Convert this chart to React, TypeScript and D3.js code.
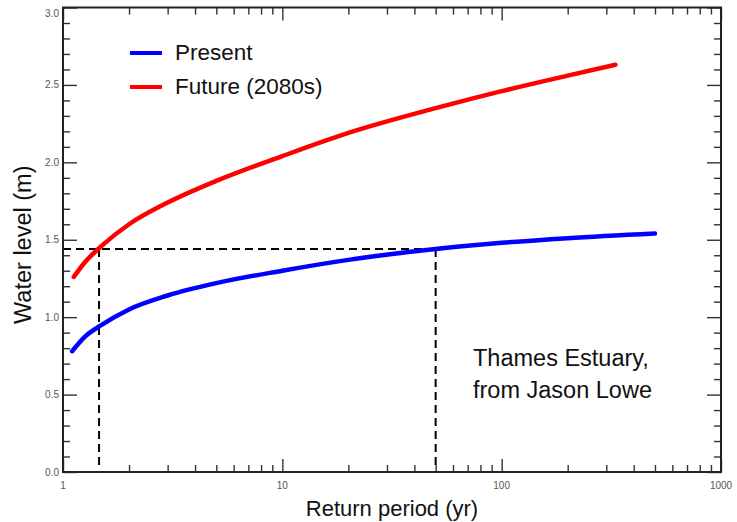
import { useRef, useEffect } from "react";
import * as d3 from "d3";

// values (return period in years, water level in m)
const presentPeriod = [1.1, 1.25, 1.5, 2, 3, 5, 10, 20, 50, 100, 200, 500];
const presentLevel = [0.78, 0.87, 0.95, 1.05, 1.14, 1.22, 1.3, 1.37, 1.44, 1.48, 1.51, 1.54];
const futurePeriod = [1.12, 1.25, 1.5, 2, 3, 5, 10, 20, 50, 100, 200, 330];
const futureLevel = [1.26, 1.35, 1.46, 1.6, 1.74, 1.88, 2.04, 2.19, 2.35, 2.46, 2.56, 2.63];

const seriesNames = ["Present", "Future (2080s)"];
const xTickLabels = [1, 10, 100, 1000];
const yTickLabels = [0, 0.5, 1, 1.5, 2, 2.5, 3];

// threshold guides: 1.44 m, reached at ~1.45 yr (future) and 50 yr (present)
const guideLevel = 1.44;
const guidePeriods = [1.46, 50];

export default function App() {
  const svgRef = useRef<SVGSVGElement>(null);

  useEffect(() => {
    if (!svgRef.current) return;
    const width = 737;
    const height = 522;
    const margin = { top: 7.5, right: 16, bottom: 50, left: 63 };
    const font = "'Liberation Sans', Arial, Helvetica, sans-serif";

    const svg = d3.select(svgRef.current);
    svg.selectAll("*").remove();
    svg.attr("width", width).attr("height", height).attr("viewBox", `0 0 ${width} ${height}`);

    const x = d3
      .scaleLog()
      .domain([1, 1000])
      .range([margin.left, width - margin.right]);
    const y = d3
      .scaleLinear()
      .domain([0, 3])
      .range([height - margin.bottom, margin.top]);

    const x0 = margin.left;
    const x1 = width - margin.right;
    const y0 = height - margin.bottom;
    const y1 = margin.top;

    svg.append("rect").attr("width", width).attr("height", height).attr("fill", "#fff");

    const xMinor = x.ticks().filter((d) => !xTickLabels.includes(d));
    const yMinor = y.ticks(30).filter((d) => !yTickLabels.some((v) => Math.abs(v - d) < 1e-6));

    const tickStyle = (g: any) => {
      g.select(".domain").remove();
      g.selectAll(".tick line").attr("stroke", "#333").attr("stroke-width", 1.4);
      g.selectAll(".tick text").remove();
    };

    // inward ticks on all four sides
    const axes: [any, string][] = [
      [d3.axisBottom(x), `translate(0,${y0})`],
      [d3.axisTop(x), `translate(0,${y1})`],
    ];
    axes.forEach(([axis, tr]) => {
      svg.append("g").attr("transform", tr).call(axis.tickValues(xMinor).tickSize(-7)).call(tickStyle);
      svg.append("g").attr("transform", tr).call(axis.tickValues(xTickLabels).tickSize(-13)).call(tickStyle);
    });
    const yAxes: [any, string][] = [
      [d3.axisLeft(y), `translate(${x0},0)`],
      [d3.axisRight(y), `translate(${x1},0)`],
    ];
    yAxes.forEach(([axis, tr]) => {
      svg.append("g").attr("transform", tr).call(axis.tickValues(yMinor).tickSize(-7)).call(tickStyle);
      svg.append("g").attr("transform", tr).call(axis.tickValues(yTickLabels).tickSize(-14)).call(tickStyle);
    });

    // tick labels
    svg
      .append("g")
      .selectAll("text")
      .data(yTickLabels)
      .join("text")
      .attr("x", x0 - 4)
      .attr("y", (d) => Math.max(y(d), 13))
      .attr("dy", "0.35em")
      .attr("text-anchor", "end")
      .attr("font-family", font)
      .attr("font-size", 10)
      .attr("fill", "#555")
      .text((d) => d.toFixed(1));

    svg
      .append("g")
      .selectAll("text")
      .data(xTickLabels)
      .join("text")
      .attr("x", (d) => x(d))
      .attr("y", y0 + 17)
      .attr("text-anchor", "middle")
      .attr("font-family", font)
      .attr("font-size", 10)
      .attr("fill", "#555")
      .text((d) => String(d));

    // dashed guides
    const dash = { stroke: "#000", width: 2, array: "8,5" };
    svg
      .append("line")
      .attr("x1", x0)
      .attr("x2", x(guidePeriods[1]))
      .attr("y1", y(guideLevel))
      .attr("y2", y(guideLevel))
      .attr("stroke", dash.stroke)
      .attr("stroke-width", dash.width)
      .attr("stroke-dasharray", dash.array);
    svg
      .append("g")
      .selectAll("line")
      .data(guidePeriods)
      .join("line")
      .attr("x1", (d) => x(d))
      .attr("x2", (d) => x(d))
      .attr("y1", y(guideLevel))
      .attr("y2", y0 - 3)
      .attr("stroke", dash.stroke)
      .attr("stroke-width", dash.width)
      .attr("stroke-dasharray", dash.array);

    // curves
    const line = d3
      .line<[number, number]>()
      .x((d) => x(d[0]))
      .y((d) => y(d[1]))
      .curve(d3.curveMonotoneX);

    const series = [
      { periods: presentPeriod, levels: presentLevel, color: "#0000ff" },
      { periods: futurePeriod, levels: futureLevel, color: "#ff0000" },
    ];
    series.forEach((s) => {
      const pts = s.periods.map((p, i) => [p, s.levels[i]] as [number, number]);
      svg
        .append("path")
        .datum(pts)
        .attr("fill", "none")
        .attr("stroke", s.color)
        .attr("stroke-width", 4.5)
        .attr("stroke-linecap", "round")
        .attr("d", line);
    });

    // frame
    svg
      .append("rect")
      .attr("x", x0)
      .attr("y", y1)
      .attr("width", x1 - x0)
      .attr("height", y0 - y1)
      .attr("fill", "none")
      .attr("stroke", "#222")
      .attr("stroke-width", 2);

    // legend
    const legend = svg.append("g").attr("transform", "translate(130,53)");
    series.forEach((s, i) => {
      const row = legend.append("g").attr("transform", `translate(0,${i * 34})`);
      row.append("line").attr("x1", 0).attr("x2", 32).attr("stroke", s.color).attr("stroke-width", 4);
      row
        .append("text")
        .attr("x", 45)
        .attr("dy", "0.33em")
        .attr("font-family", font)
        .attr("font-size", 22.5)
        .attr("fill", "#111")
        .text(seriesNames[i]);
    });

    // annotation
    const note = svg.append("g").attr("transform", "translate(473,358)");
    ["Thames Estuary,", "from Jason Lowe"].forEach((t, i) => {
      note
        .append("text")
        .attr("y", i * 32)
        .attr("dy", "0.35em")
        .attr("font-family", font)
        .attr("font-size", 23.5)
        .attr("fill", "#111")
        .text(t);
    });

    // axis titles
    svg
      .append("text")
      .attr("x", (x0 + x1) / 2)
      .attr("y", 516)
      .attr("text-anchor", "middle")
      .attr("font-family", font)
      .attr("font-size", 22)
      .attr("fill", "#111")
      .text("Return period (yr)");
    svg
      .append("text")
      .attr("transform", `translate(31,${(y0 + y1) / 2 + 5}) rotate(-90)`)
      .attr("text-anchor", "middle")
      .attr("font-family", font)
      .attr("font-size", 23.5)
      .attr("fill", "#111")
      .text("Water level (m)");
  }, []);

  return (
    <div style={{ position: "absolute", left: 0, top: 0 }}>
      <svg ref={svgRef} style={{ display: "block" }} />
    </div>
  );
}
